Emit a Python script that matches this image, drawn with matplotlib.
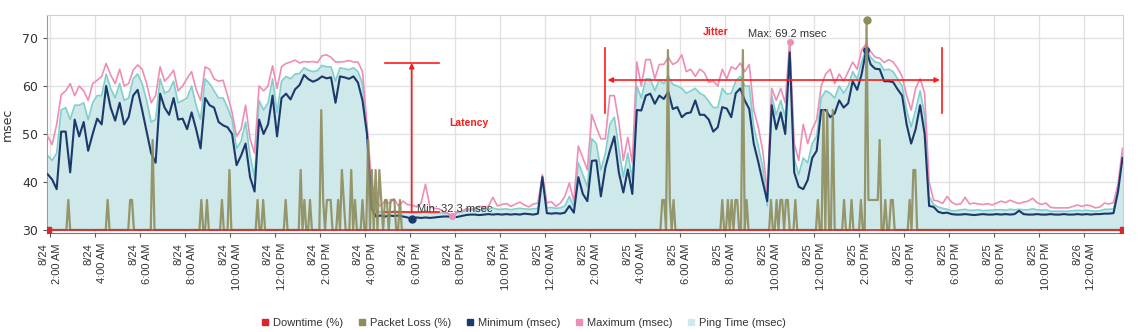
import numpy as np
import matplotlib
matplotlib.use("Agg")
import matplotlib.pyplot as plt
from matplotlib.lines import Line2D

# ping samples every 12 minutes, hours counted from 8/24 00:00
hours = 1.9 + 0.2 * np.arange(240)

min_ms = [
    41.6, 40.5, 38.5, 50.5, 50.5, 42.0, 53.0, 49.5, 52.5, 46.5, 50.0, 53.2, 52.0, 60.0, 55.5, 52.8, 56.5, 52.0, 53.5, 58.0,
    59.2, 55.0, 50.5, 46.0, 44.0, 58.4, 55.5, 54.0, 57.5, 53.0, 53.2, 51.0, 54.5, 51.0, 47.0, 57.5, 56.0, 55.5, 52.5, 51.8,
    51.4, 50.0, 43.5, 45.5, 48.0, 41.0, 38.0, 53.0, 50.0, 52.0, 58.0, 49.5, 57.5, 58.4, 57.2, 59.3, 60.2, 62.3, 61.4, 60.9,
    61.3, 62.0, 61.6, 61.8, 56.5, 62.0, 61.8, 61.5, 62.0, 60.7, 57.0, 50.0, 34.6, 32.8, 33.0, 32.8, 33.0, 32.9, 33.0, 32.8,
    32.6, 32.3, 32.6, 32.5, 32.6, 32.5, 32.6, 32.7, 32.8, 32.8, 32.6, 32.7, 32.9, 33.1, 33.2, 33.2, 33.1, 33.2, 33.3, 33.2,
    33.3, 33.2, 33.3, 33.2, 33.3, 33.2, 33.4, 33.3, 33.2, 33.4, 41.0, 33.5, 33.4, 33.5, 33.4, 33.6, 35.0, 33.6, 41.0, 37.5,
    36.0, 44.4, 44.5, 37.0, 43.0, 46.5, 49.5, 42.0, 37.8, 42.6, 37.5, 55.0, 54.9, 58.0, 58.4, 56.3, 58.0, 57.3, 58.8, 55.2,
    55.6, 53.5, 54.3, 54.5, 57.0, 54.0, 54.0, 53.0, 50.5, 51.4, 55.6, 55.3, 53.5, 58.5, 59.5, 57.0, 55.2, 48.0, 44.2, 40.0,
    36.0, 56.0, 51.0, 54.5, 50.0, 67.0, 42.0, 39.0, 38.5, 40.4, 45.0, 46.5, 55.0, 55.0, 53.5, 54.3, 57.0, 55.5, 56.4, 61.0,
    59.2, 62.5, 67.5, 64.5, 63.6, 63.5, 61.0, 61.0, 60.8, 59.3, 58.0, 52.0, 48.0, 51.0, 56.0, 50.0, 35.0, 34.8, 33.8, 33.5,
    33.6, 33.3, 33.2, 33.2, 33.3, 33.2, 33.1, 33.2, 33.3, 33.2, 33.2, 33.3, 33.2, 33.3, 33.2, 33.3, 34.0, 33.3, 33.2, 33.2,
    33.3, 33.2, 33.2, 33.3, 33.2, 33.2, 33.3, 33.2, 33.2, 33.3, 33.2, 33.3, 33.2, 33.3, 33.3, 33.4, 33.4, 33.5, 38.0, 45.0,
]

max_ms = [
    49.5, 47.8, 52.0, 58.2, 59.0, 60.5, 58.0, 60.0, 59.0, 57.0, 60.5, 61.2, 62.0, 64.7, 62.3, 60.5, 63.5, 60.0, 60.5, 63.3,
    64.4, 63.5, 60.5, 56.5, 58.0, 64.0, 61.0, 62.0, 63.3, 59.0, 60.0, 61.6, 63.0, 59.3, 57.0, 64.0, 63.5, 61.5, 61.0, 61.2,
    58.0, 54.5, 49.5, 51.0, 56.0, 49.0, 46.0, 60.0, 59.0, 60.0, 64.2, 59.5, 64.0, 64.7, 65.0, 65.4, 64.8, 65.1, 65.0, 65.1,
    64.9, 66.3, 66.5, 66.0, 65.0, 65.0, 65.1, 65.3, 65.0, 65.0, 63.0, 52.0, 40.2, 35.8, 35.0, 36.0, 35.5, 36.5, 35.0, 36.0,
    35.3, 35.2, 34.8, 35.5, 39.5, 34.8, 34.5, 34.4, 33.8, 33.5, 32.9, 33.8, 33.8, 34.4, 34.3, 34.5, 34.9, 34.8, 34.9, 36.8,
    35.0, 35.3, 35.5, 34.9, 35.4, 35.8, 35.2, 34.8, 35.4, 35.6, 41.5, 35.6, 35.9, 34.9, 35.6, 37.0, 39.8, 36.0, 47.5, 45.0,
    42.5, 54.0, 51.4, 49.0, 49.0, 58.0, 58.0, 52.5, 44.5, 49.3, 44.0, 65.0, 60.0, 65.5, 65.5, 61.5, 64.5, 64.5, 66.0, 64.5,
    65.0, 66.5, 63.0, 63.5, 62.0, 63.5, 62.8, 60.8, 61.0, 60.0, 63.5, 61.5, 64.0, 63.5, 64.8, 63.0, 64.5, 55.0, 51.5, 46.5,
    38.0, 59.5, 57.0, 59.5, 56.5, 69.2, 48.0, 44.5, 52.0, 48.0, 51.0, 53.0, 60.0, 62.5, 63.5, 60.5, 62.5, 61.0, 63.0, 65.0,
    63.5, 67.5, 68.8, 67.2, 66.0, 65.8, 64.9, 65.5, 65.0, 63.7, 62.0, 58.0, 55.0, 59.5, 61.5, 58.5, 40.0, 36.2, 36.0, 35.5,
    37.0, 35.8, 35.3, 35.4, 36.8, 35.4, 35.6, 35.4, 35.3, 35.5, 35.2, 35.6, 36.0, 35.7, 36.2, 35.8, 35.5, 35.8, 36.0, 36.6,
    35.7, 35.3, 35.6, 34.7, 34.6, 34.6, 34.6, 34.6, 34.9, 35.2, 34.9, 35.2, 35.0, 34.6, 34.8, 35.6, 35.4, 35.7, 39.5, 47.0,
]

ping_ms = [
    45.5, 44.5, 46.0, 55.0, 55.5, 53.0, 56.0, 56.0, 56.5, 53.0, 56.5, 58.0, 58.0, 62.5, 59.5, 57.5, 60.5, 57.0, 57.5, 61.5,
    62.5, 60.5, 57.0, 52.5, 53.0, 61.5, 58.5, 59.0, 61.0, 56.5, 57.0, 57.5, 60.0, 56.0, 53.0, 61.5, 60.5, 59.0, 57.5, 57.5,
    55.5, 53.0, 47.0, 48.5, 52.5, 45.5, 41.0, 57.0, 55.0, 56.5, 61.5, 54.5, 61.0, 62.0, 61.5, 62.5, 62.6, 63.8, 63.3, 63.0,
    63.2, 64.3, 64.0, 64.0, 61.0, 63.8, 63.6, 63.4, 63.8, 63.0, 60.5, 51.0, 37.0, 34.0, 33.7, 33.8, 33.6, 34.0, 33.7, 33.8,
    33.6, 33.5, 33.5, 33.6, 34.0, 33.5, 33.5, 33.6, 33.5, 33.4, 32.8, 33.5, 33.8, 34.0, 34.1, 34.2, 34.2, 34.2, 34.3, 34.6,
    34.3, 34.3, 34.4, 34.2, 34.4, 34.5, 34.4, 34.3, 34.4, 34.5, 41.2, 34.6, 34.7, 34.5, 34.6, 35.0, 37.0, 34.8, 44.0, 41.5,
    39.0, 49.0, 48.0, 42.5, 46.0, 52.0, 53.5, 47.0, 41.0, 46.0, 40.5, 60.0, 57.5, 61.5, 61.5, 59.0, 61.3, 60.5, 62.0, 60.3,
    60.0, 59.5, 58.5, 59.0, 59.5, 58.5, 58.0, 56.8, 55.5, 55.5, 59.5, 58.3, 58.5, 61.0, 62.0, 60.0, 60.0, 51.5, 47.5, 43.0,
    35.0, 58.0, 54.0, 57.0, 53.5, 68.3, 45.0, 41.5, 45.0, 44.0, 48.0, 49.5, 57.5, 59.0, 58.5, 57.5, 60.0, 58.5, 60.0, 63.0,
    61.5, 65.0, 68.0, 66.0, 65.0, 64.8, 63.3, 63.5, 63.0, 61.5, 60.0, 55.0, 51.5, 55.0, 59.0, 54.0, 37.0, 35.3, 34.8, 34.5,
    34.3, 34.0, 34.0, 34.2, 34.3, 34.1, 34.1, 34.2, 34.0, 34.1, 34.1, 34.2, 34.2, 34.1, 34.3, 34.2, 34.3, 34.2, 34.2, 34.4,
    34.2, 34.1, 34.2, 33.9, 33.9, 33.9, 33.9, 33.9, 34.0, 34.1, 34.0, 34.1, 34.0, 33.9, 34.0, 34.3, 34.3, 34.4, 38.5, 46.0,
]

# packet loss only reported when non-zero (5 minute buckets)
loss_hours = [2.84, 4.53, 5.55, 5.63, 6.53, 8.76, 8.98, 9.64, 9.96, 11.26, 11.52, 12.52, 13.11, 13.33, 13.6,
              14.1, 14.18, 14.28, 14.37, 14.45, 14.81, 15.0, 15.1, 15.36, 15.58, 15.93, 16.18, 16.3, 16.48,
              16.62, 16.74, 16.89, 16.98, 17.11, 17.2, 17.33, 17.56,
              29.2, 29.3, 29.47, 29.6, 29.7,
              31.87, 32.13, 32.3, 32.45, 32.53, 32.8, 33.02,
              34.07, 34.3, 34.45, 34.6, 34.75, 34.85, 35.15,
              36.15, 36.37, 36.56, 36.81, 37.33, 37.66, 38.07, 38.3, 38.4, 38.48, 38.57, 38.65, 38.73,
              38.82, 38.9, 39.14, 39.38, 39.48, 40.22, 40.37, 40.52]
loss_pct = [10, 10, 10, 10, 30, 10, 10, 10, 20, 10, 10, 10, 20, 10, 10,
            40, 10, 10, 10, 10, 10, 20, 10, 20, 10, 10, 30, 20, 20,
            20, 10, 10, 10, 10, 10, 10, 10,
            10, 10, 60, 10, 10,
            10, 10, 10, 10, 10, 60, 10,
            10, 10, 10, 10, 10, 10, 10,
            10, 40, 40, 40, 10, 10, 10, 70, 10, 10, 10, 10, 10,
            10, 30, 10, 10, 10, 10, 20, 20]

loss_t = 1.9 + np.arange(574) / 12.0
loss = np.zeros(len(loss_t))
for h, v in zip(loss_hours, loss_pct):
    loss[int(round((h - 1.9) * 12))] = v

downtime_pct = np.zeros(len(hours))  # no downtime during the period

tick_hours = list(range(2, 49, 2))


def tick_label(h):
    day = 24 + h // 24
    hr = h % 24
    hr12 = 12 if hr % 12 == 0 else hr % 12
    return "8/%d\n%d:00 %s" % (day, hr12, "AM" if hr < 12 else "PM")


c_down = "#d8262b"
c_loss = "#8e8c5c"
c_min = "#1b3a6c"
c_max = "#ee8db6"
c_ping = "#7fd0cd"
c_fill = "#cfe8ea"

fig = plt.figure(figsize=(11.44, 3.32), dpi=100)
ax = fig.add_axes([0.0411, 0.2973, 0.9405, 0.6575])

ymin, ymax = 29.3, 74.8
ax.fill_between(hours, 30, ping_ms, color=c_fill, lw=0, zorder=1)
ax.plot(hours, ping_ms, color=c_ping, lw=1.2, zorder=2)
ax.plot(hours, max_ms, color=c_max, lw=1.2, zorder=3)
ax.plot(hours, min_ms, color=c_min, lw=1.5, zorder=4)

# extreme value markers
i_min = int(np.argmin(min_ms))
i_minmax = int(np.argmax(min_ms))
i_max = int(np.argmax(max_ms))
i_maxmin = int(np.argmin(max_ms))
ax.plot(hours[i_min], min_ms[i_min], "o", color=c_min, ms=5, zorder=6)
ax.plot(hours[i_minmax], min_ms[i_minmax], "o", color=c_min, ms=4, zorder=6)
ax.plot(hours[i_max], max_ms[i_max], "o", color=c_max, ms=4, zorder=6)
ax.plot(hours[i_maxmin], max_ms[i_maxmin], "o", color=c_max, ms=4, zorder=6)

ax.text(hours[i_min] + 0.22, min_ms[i_min] + 2.1, "Min: %.1f msec" % min_ms[i_min],
        fontsize=8, color="#333333", family="Liberation Sans", va="center", ha="left", zorder=7)
ax.text(hours[i_max] - 0.12, max_ms[i_max] + 1.6, "Max: %.1f msec" % max_ms[i_max],
        fontsize=8, color="#333333", family="Liberation Sans", va="center", ha="center", zorder=7)

ax.set_xlim(1.87, 49.72)
ax.set_ylim(ymin, ymax)
ax.set_yticks([30, 40, 50, 60, 70])
ax.set_xticks(tick_hours)
ax.set_xticklabels([tick_label(h) for h in tick_hours], rotation=90, fontsize=8,
                   family="Liberation Sans", color="#333333", va="top", ha="center",
                   multialignment="right", linespacing=1.45)
ax.tick_params(axis="x", length=3, pad=4, color="#555555")
ax.tick_params(axis="y", length=3, labelsize=9, labelcolor="#333333", color="#555555")
ax.set_ylabel("msec", fontsize=9, color="#333333", labelpad=6)
ax.grid(True, color="#e2e2e2", lw=1)
ax.set_axisbelow(True)
for s in ["top", "right"]:
    ax.spines[s].set_color("#d0d0d0")
ax.spines["left"].set_color("#999999")
ax.spines["bottom"].set_color("#777777")

# packet loss and downtime share the plot, in percent
ax2 = ax.twinx()
ax2.set_ylim((ymin - 30) / 0.625, (ymax - 30) / 0.625)
ax2.plot(loss_t, loss, color=c_loss, lw=1.6, alpha=0.9, zorder=3)
i_loss = int(np.argmax(loss))
ax2.plot(loss_t[i_loss], loss[i_loss], "o", color=c_loss, ms=5, zorder=5)
ax2.plot(hours, downtime_pct, color=c_down, lw=1.2, marker="s", ms=5,
         markevery=[0, len(hours) - 1], zorder=4)
ax2.set_yticks([])
for s in ax2.spines.values():
    s.set_visible(False)

# latency / jitter callouts
red = "#ff1a1a"
ax.plot([16.89, 19.29], [64.8, 64.8], color=red, lw=1.2, zorder=8)
ax.plot([16.89, 19.29], [33.75, 33.75], color=red, lw=1.2, zorder=8)
ax.annotate("", xy=(18.09, 64.8), xytext=(18.09, 33.75),
            arrowprops=dict(arrowstyle="-|>", color=red, lw=1.2, mutation_scale=7,
                            shrinkA=0, shrinkB=0), zorder=8)
ax.text(19.78, 52.3, "Latency", color=red, fontsize=7.5, fontweight="bold",
        family="Liberation Sans", va="center", ha="left")
for xv in [26.67, 41.69]:
    ax.plot([xv, xv], [54.4, 67.9], color=red, lw=1.2, zorder=8)
ax.annotate("", xy=(26.8, 61.25), xytext=(41.58, 61.25),
            arrowprops=dict(arrowstyle="<|-|>", color=red, lw=1.2, mutation_scale=7,
                            shrinkA=0, shrinkB=0), zorder=8)
ax.text(31.02, 71.3, "Jitter", color=red, fontsize=7.5, fontweight="bold",
        family="Liberation Sans", va="center", ha="left")

handles = [
    Line2D([], [], marker="s", ls="none", color=c_down, ms=5),
    Line2D([], [], marker="s", ls="none", color=c_loss, ms=5),
    Line2D([], [], marker="s", ls="none", color=c_min, ms=5),
    Line2D([], [], marker="s", ls="none", color=c_max, ms=5),
    Line2D([], [], marker="s", ls="none", color=c_fill, ms=5),
]
names = ["Downtime (%)", "Packet Loss (%)", "Minimum (msec)", "Maximum (msec)", "Ping Time (msec)"]
fig.legend(handles, names, loc="center", bbox_to_anchor=(0.458, 0.027), ncol=5, frameon=False,
           prop={"family": "Liberation Sans", "size": 8}, handlelength=0.6, handletextpad=0.4,
           columnspacing=1.4, labelcolor="#333333")

fig.savefig("out.png", dpi=100)
